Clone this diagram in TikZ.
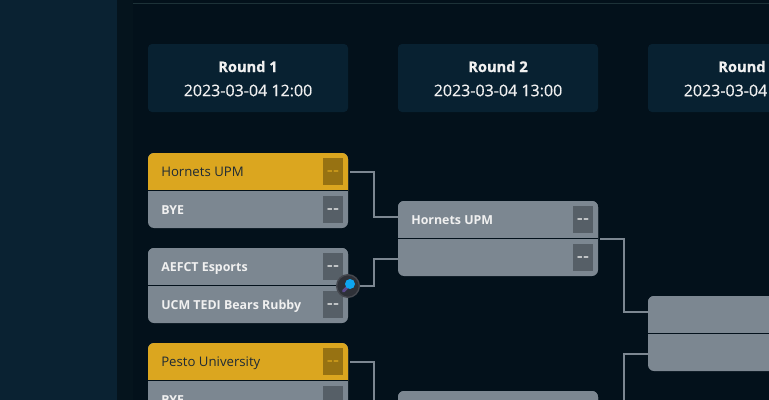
\documentclass[tikz,border=0pt]{standalone}
\usepackage{fontspec}
\setmainfont{Open Sans}
\newfontfamily\datefont[FakeBold=0.4]{Open Sans}
\newfontfamily\titlefont[BoldFeatures={FakeBold=0.8}]{Open Sans}
\definecolor{pagebg}{HTML}{03111B}
\definecolor{sidebg}{HTML}{0A2232}
\definecolor{bandbg}{HTML}{05141D}
\definecolor{headbg}{HTML}{082131}
\definecolor{topline}{HTML}{1D3238}
\definecolor{rowgray}{HTML}{7C8791}
\definecolor{rowgold}{HTML}{DBA61F}
\definecolor{scoregray}{HTML}{565F67}
\definecolor{scoregold}{HTML}{977212}
\definecolor{textlight}{HTML}{F0F0F0}
\definecolor{textdark}{HTML}{1E2A35}
\definecolor{lensring}{HTML}{45484F}
\definecolor{lensbg}{HTML}{2E3138}
\definecolor{lensblue}{HTML}{0EA5F0}
\definecolor{lenshandle}{HTML}{5B4A8E}
\tikzset{
  px/.style={x=0.75pt,y=-0.75pt},
  roundhead/.style={minimum width=150pt,minimum height=51pt,fill=headbg,rounded corners=3pt,inner sep=0pt},
  headtext/.style={text=textlight,font=\fontsize{12}{13}\datefont,inner sep=0pt},
  headtitle/.style={text=textlight,font=\fontsize{11}{12}\titlefont\bfseries,inner sep=0pt},
  teamname/.style={font=\fontsize{9.3}{11}\selectfont\bfseries,text=textlight,anchor=west,inner sep=0pt,text height=7pt,text depth=2pt},
  goldname/.style={font=\fontsize{9.9}{11}\selectfont,text=textdark,anchor=west,inner sep=0pt,text height=7pt,text depth=2pt},
  scorebox/.style={minimum width=15pt,minimum height=20.25pt,inner sep=0pt,fill=scoregray,text=textlight,font=\fontsize{14}{14}\selectfont,text height=0.7em,text depth=0pt},
  goldscore/.style={scorebox,fill=scoregold,text=rowgold},
  link/.style={draw=rowgray,line width=1.5pt},
}
% one match: #1 name, #2 left, #3 top, #4 fill of upper row
\newcommand{\matchbox}[4]{
  \fill[rowgray,rounded corners=4.5pt] (#2,#3) rectangle ++(200,75);
  \begin{scope}
    \clip (#2,#3) rectangle ++(200,37);
    \fill[#4,rounded corners=4.5pt] (#2,#3) rectangle ++(200,75);
  \end{scope}
  \fill[pagebg] (#2,#3+37) rectangle (#2+200,#3+38.3);
  \coordinate (#1-up) at (#2+202,#3+19);
  \coordinate (#1-mid) at (#2+202,#3+37.5);
  \coordinate (#1-a) at (#2,#3+16);
  \coordinate (#1-b) at (#2,#3+58);
}
\begin{document}
\begin{tikzpicture}[px]
\useasboundingbox (0,0) rectangle (769,400);
\clip (0,0) rectangle (769,400);
\fill[pagebg] (0,0) rectangle (769,400);
\fill[sidebg] (0,0) rectangle (117,400);
\fill[bandbg] (117,0) rectangle (133,400);
\draw[topline,line width=0.75pt] (133,3.5) -- (769,3.5);

% round headers
\node[roundhead] (head1) at (248,78) {};
\node[roundhead] (head2) at (498,78) {};
\node[roundhead] (head3) at (748,78) {};
\node[headtitle] (title1) at (248,66.5) {Round 1};
\node[headtext] (date1) at (248,90.5) {2023-03-04 12:00};
\node[headtitle] (title2) at (498,66.5) {Round 2};
\node[headtext] (date2) at (498,90.5) {2023-03-04 13:00};
\node[headtitle,anchor=west] (title3) at (718,66.5) {Round};
\node[headtext,anchor=west] (date3) at (683.5,90.5) {2023-03-04};

% matches
\matchbox{m1}{148}{153}{rowgold}
\matchbox{m2}{148}{248}{rowgray}
\matchbox{m3}{148}{343}{rowgold}
\matchbox{m4}{398}{201}{rowgray}
\matchbox{m5}{398}{391}{rowgray}
\matchbox{m6}{648}{296}{rowgray}

\node[goldname] (t1) at (161,173) {Hornets UPM};
\node[teamname] (t2) at (161,211) {BYE};
\node[teamname] (t3) at (161,268) {AEFCT Esports};
\node[teamname] (t4) at (161,306) {UCM TEDI Bears Rubby};
\node[goldname] (t5) at (161,363) {Pesto University};
\node[teamname] (t6) at (161,401) {BYE};
\node[teamname] (t7) at (411,221) {Hornets UPM};

\node[goldscore] (s1) at (333,171.5) {-{}-};
\node[scorebox] (s2) at (333,209.5) {-{}-};
\node[scorebox] (s3) at (333,266.5) {-{}-};
\node[scorebox] (s4) at (333,304.5) {-{}-};
\node[goldscore] (s5) at (333,361.5) {-{}-};
\node[scorebox] (s6) at (333,399.5) {};
\node[scorebox] (s7) at (583,219.5) {-{}-};
\node[scorebox] (s8) at (583,257.5) {-{}-};

% connectors
\draw[link] (m1-up) -- (374,172) |- (m4-a);
\draw[link] (m2-mid) -- (374,285.5) |- (m4-b);
\draw[link] (m3-up) -- (374,362) |- (m5-a);
\draw[link] (m4-mid) -- (624,238.5) |- (m6-a);
\draw[link] (m5-mid) -- (624,428.5) |- (m6-b);

% zoom icon
\node[circle,draw=lensring,line width=1pt,fill=lensbg,minimum size=17pt,inner sep=0pt] (lens) at (348,286) {};
\draw[lenshandle,line width=2.2pt,line cap=round] (343.5,291) -- (348,286.5);
\fill[lensblue] (350,284) circle [radius=5];
\end{tikzpicture}
\end{document}
